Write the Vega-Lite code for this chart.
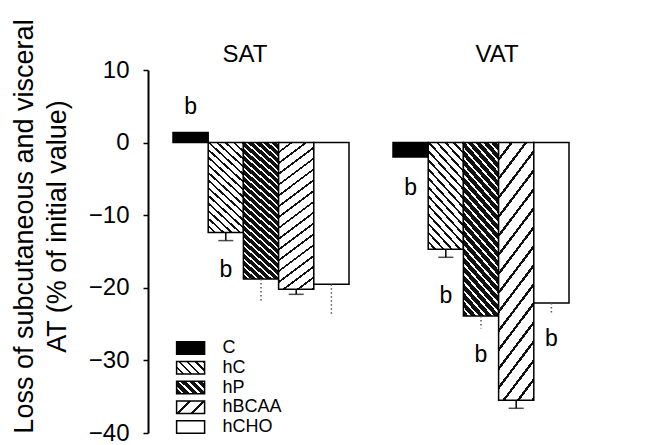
{
  "$schema": "https://vega.github.io/schema/vega-lite/v6.json",
  "width": 513,
  "height": 363,
  "autosize": {"type": "none"},
  "padding": {"left": 148, "top": 70, "right": 0, "bottom": 12},
  "background": "white",
  "config": {"view": {"stroke": null}, "font": "Liberation Sans"},
  "datasets": {
    "bars": [
      {"group": "SAT", "diet": "C", "value": 1.4, "err": null},
      {"group": "SAT", "diet": "hC", "value": -12.4, "err": -13.5},
      {"group": "SAT", "diet": "hP", "value": -18.8, "err": -22.1},
      {"group": "SAT", "diet": "hBCAA", "value": -20.2, "err": -20.9},
      {"group": "SAT", "diet": "hCHO", "value": -19.5, "err": -23.9},
      {"group": "VAT", "diet": "C", "value": -2.0, "err": null},
      {"group": "VAT", "diet": "hC", "value": -14.7, "err": -15.8},
      {"group": "VAT", "diet": "hP", "value": -23.9, "err": -25.6},
      {"group": "VAT", "diet": "hBCAA", "value": -35.5, "err": -36.6},
      {"group": "VAT", "diet": "hCHO", "value": -22.1, "err": -23.6}
    ],
    "notes": [
      {"group": "SAT", "diet": "C", "y": 4.9, "text": "b"},
      {"group": "SAT", "diet": "hC", "y": -17.5, "text": "b"},
      {"group": "VAT", "diet": "C", "y": -6.3, "text": "b"},
      {"group": "VAT", "diet": "hC", "y": -21.1, "text": "b"},
      {"group": "VAT", "diet": "hP", "y": -29.3, "text": "b"},
      {"group": "VAT", "diet": "hCHO", "y": -27.1, "text": "b"}
    ],
    "legend": [
      {"diet": "C"}, {"diet": "hC"}, {"diet": "hP"}, {"diet": "hBCAA"}, {"diet": "hCHO"}
    ]
  },
  "resolve": {"scale": {"y": "independent"}},
  "layer": [
    {
      "layer": [
        {
          "data": {"name": "bars"},
          "mark": {"type": "bar", "stroke": "black", "strokeWidth": 1.5},
          "encoding": {
            "x": {
              "field": "group", "type": "nominal", "sort": ["SAT", "VAT"],
              "scale": {"domain": ["SAT", "VAT"], "paddingInner": 0.2, "paddingOuter": 0.2659, "align": 0.2137},
              "axis": {
                "orient": "top", "title": null, "domain": false, "ticks": false, "tickSize": 0,
                "labelAngle": 0, "labelFontSize": 24, "labelPadding": 4, "labelColor": "black",
                "labelOffset": {"condition": {"test": "datum.value === 'SAT'", "value": -16}, "value": 16}
              }
            },
            "xOffset": {
              "field": "diet", "type": "nominal",
              "scale": {"domain": ["C", "hC", "hP", "hBCAA", "hCHO"], "paddingInner": 0, "paddingOuter": 0}
            },
            "y": {
              "field": "value", "type": "quantitative",
              "scale": {"domain": [-40, 10], "nice": false, "zero": false},
              "axis": {
                "values": [-40, -35, -30, -25, -20, -15, -10, -5, 0, 5, 10],
                "labelExpr": "datum.value % 10 === 0 ? datum.label : ''",
                "grid": false, "labelFontSize": 24, "labelColor": "black", "labelPadding": 14,
                "tickSize": 5, "tickColor": "black", "tickWidth": 1.5,
                "domainColor": "black", "domainWidth": 2,
                "title": ["Loss of subcutaneous and visceral", "AT (% of initial value)"],
                "titleFontSize": 27, "titleFontWeight": "normal", "titleColor": "black",
                "titleLineHeight": 33, "titleX": -110, "titleY": 156
              }
            },
            "fill": {
              "condition": [
                {"test": "datum.diet === 'C'", "value": "black"},
                {"test": "datum.diet === 'hC'", "value": {"gradient": "linear", "x1": 0, "y1": 1, "x2": 0.433, "y2": -0.204, "stops": [
                    {"offset": 0, "color": "#fff"}, {"offset": 0.04375, "color": "#fff"}, {"offset": 0.04375, "color": "#111"}, {"offset": 0.0625, "color": "#111"},
                    {"offset": 0.0625, "color": "#fff"}, {"offset": 0.10625, "color": "#fff"}, {"offset": 0.10625, "color": "#111"}, {"offset": 0.125, "color": "#111"},
                    {"offset": 0.125, "color": "#fff"}, {"offset": 0.16875, "color": "#fff"}, {"offset": 0.16875, "color": "#111"}, {"offset": 0.1875, "color": "#111"},
                    {"offset": 0.1875, "color": "#fff"}, {"offset": 0.23125, "color": "#fff"}, {"offset": 0.23125, "color": "#111"}, {"offset": 0.25, "color": "#111"},
                    {"offset": 0.25, "color": "#fff"}, {"offset": 0.29375, "color": "#fff"}, {"offset": 0.29375, "color": "#111"}, {"offset": 0.3125, "color": "#111"},
                    {"offset": 0.3125, "color": "#fff"}, {"offset": 0.35625, "color": "#fff"}, {"offset": 0.35625, "color": "#111"}, {"offset": 0.375, "color": "#111"},
                    {"offset": 0.375, "color": "#fff"}, {"offset": 0.41875, "color": "#fff"}, {"offset": 0.41875, "color": "#111"}, {"offset": 0.4375, "color": "#111"},
                    {"offset": 0.4375, "color": "#fff"}, {"offset": 0.48125, "color": "#fff"}, {"offset": 0.48125, "color": "#111"}, {"offset": 0.5, "color": "#111"},
                    {"offset": 0.5, "color": "#fff"}, {"offset": 0.54375, "color": "#fff"}, {"offset": 0.54375, "color": "#111"}, {"offset": 0.5625, "color": "#111"},
                    {"offset": 0.5625, "color": "#fff"}, {"offset": 0.60625, "color": "#fff"}, {"offset": 0.60625, "color": "#111"}, {"offset": 0.625, "color": "#111"},
                    {"offset": 0.625, "color": "#fff"}, {"offset": 0.66875, "color": "#fff"}, {"offset": 0.66875, "color": "#111"}, {"offset": 0.6875, "color": "#111"},
                    {"offset": 0.6875, "color": "#fff"}, {"offset": 0.73125, "color": "#fff"}, {"offset": 0.73125, "color": "#111"}, {"offset": 0.75, "color": "#111"},
                    {"offset": 0.75, "color": "#fff"}, {"offset": 0.79375, "color": "#fff"}, {"offset": 0.79375, "color": "#111"}, {"offset": 0.8125, "color": "#111"},
                    {"offset": 0.8125, "color": "#fff"}, {"offset": 0.85625, "color": "#fff"}, {"offset": 0.85625, "color": "#111"}, {"offset": 0.875, "color": "#111"},
                    {"offset": 0.875, "color": "#fff"}, {"offset": 0.91875, "color": "#fff"}, {"offset": 0.91875, "color": "#111"}, {"offset": 0.9375, "color": "#111"},
                    {"offset": 0.9375, "color": "#fff"}, {"offset": 0.98125, "color": "#fff"}, {"offset": 0.98125, "color": "#111"}, {"offset": 1, "color": "#111"}
                  ]}},
                {"test": "datum.diet === 'hP'", "value": {"gradient": "linear", "x1": 0, "y1": 1, "x2": 0.269, "y2": -0.168, "stops": [
                    {"offset": 0, "color": "#111"}, {"offset": 0.02917, "color": "#111"}, {"offset": 0.02917, "color": "#fff"}, {"offset": 0.04167, "color": "#fff"},
                    {"offset": 0.04167, "color": "#111"}, {"offset": 0.07083, "color": "#111"}, {"offset": 0.07083, "color": "#fff"}, {"offset": 0.08333, "color": "#fff"},
                    {"offset": 0.08333, "color": "#111"}, {"offset": 0.1125, "color": "#111"}, {"offset": 0.1125, "color": "#fff"}, {"offset": 0.125, "color": "#fff"},
                    {"offset": 0.125, "color": "#111"}, {"offset": 0.15417, "color": "#111"}, {"offset": 0.15417, "color": "#fff"}, {"offset": 0.16667, "color": "#fff"},
                    {"offset": 0.16667, "color": "#111"}, {"offset": 0.19583, "color": "#111"}, {"offset": 0.19583, "color": "#fff"}, {"offset": 0.20833, "color": "#fff"},
                    {"offset": 0.20833, "color": "#111"}, {"offset": 0.2375, "color": "#111"}, {"offset": 0.2375, "color": "#fff"}, {"offset": 0.25, "color": "#fff"},
                    {"offset": 0.25, "color": "#111"}, {"offset": 0.27917, "color": "#111"}, {"offset": 0.27917, "color": "#fff"}, {"offset": 0.29167, "color": "#fff"},
                    {"offset": 0.29167, "color": "#111"}, {"offset": 0.32083, "color": "#111"}, {"offset": 0.32083, "color": "#fff"}, {"offset": 0.33333, "color": "#fff"},
                    {"offset": 0.33333, "color": "#111"}, {"offset": 0.3625, "color": "#111"}, {"offset": 0.3625, "color": "#fff"}, {"offset": 0.375, "color": "#fff"},
                    {"offset": 0.375, "color": "#111"}, {"offset": 0.40417, "color": "#111"}, {"offset": 0.40417, "color": "#fff"}, {"offset": 0.41667, "color": "#fff"},
                    {"offset": 0.41667, "color": "#111"}, {"offset": 0.44583, "color": "#111"}, {"offset": 0.44583, "color": "#fff"}, {"offset": 0.45833, "color": "#fff"},
                    {"offset": 0.45833, "color": "#111"}, {"offset": 0.4875, "color": "#111"}, {"offset": 0.4875, "color": "#fff"}, {"offset": 0.5, "color": "#fff"},
                    {"offset": 0.5, "color": "#111"}, {"offset": 0.52917, "color": "#111"}, {"offset": 0.52917, "color": "#fff"}, {"offset": 0.54167, "color": "#fff"},
                    {"offset": 0.54167, "color": "#111"}, {"offset": 0.57083, "color": "#111"}, {"offset": 0.57083, "color": "#fff"}, {"offset": 0.58333, "color": "#fff"},
                    {"offset": 0.58333, "color": "#111"}, {"offset": 0.6125, "color": "#111"}, {"offset": 0.6125, "color": "#fff"}, {"offset": 0.625, "color": "#fff"},
                    {"offset": 0.625, "color": "#111"}, {"offset": 0.65417, "color": "#111"}, {"offset": 0.65417, "color": "#fff"}, {"offset": 0.66667, "color": "#fff"},
                    {"offset": 0.66667, "color": "#111"}, {"offset": 0.69583, "color": "#111"}, {"offset": 0.69583, "color": "#fff"}, {"offset": 0.70833, "color": "#fff"},
                    {"offset": 0.70833, "color": "#111"}, {"offset": 0.7375, "color": "#111"}, {"offset": 0.7375, "color": "#fff"}, {"offset": 0.75, "color": "#fff"},
                    {"offset": 0.75, "color": "#111"}, {"offset": 0.77917, "color": "#111"}, {"offset": 0.77917, "color": "#fff"}, {"offset": 0.79167, "color": "#fff"},
                    {"offset": 0.79167, "color": "#111"}, {"offset": 0.82083, "color": "#111"}, {"offset": 0.82083, "color": "#fff"}, {"offset": 0.83333, "color": "#fff"},
                    {"offset": 0.83333, "color": "#111"}, {"offset": 0.8625, "color": "#111"}, {"offset": 0.8625, "color": "#fff"}, {"offset": 0.875, "color": "#fff"},
                    {"offset": 0.875, "color": "#111"}, {"offset": 0.90417, "color": "#111"}, {"offset": 0.90417, "color": "#fff"}, {"offset": 0.91667, "color": "#fff"},
                    {"offset": 0.91667, "color": "#111"}, {"offset": 0.94583, "color": "#111"}, {"offset": 0.94583, "color": "#fff"}, {"offset": 0.95833, "color": "#fff"},
                    {"offset": 0.95833, "color": "#111"}, {"offset": 0.9875, "color": "#111"}, {"offset": 0.9875, "color": "#fff"}, {"offset": 1, "color": "#fff"}
                  ]}},
                {"test": "datum.diet === 'hBCAA'", "value": {"gradient": "linear", "x1": 0, "y1": 0, "x2": 0.206, "y2": 1.143, "stops": [
                    {"offset": 0, "color": "#fff"}, {"offset": 0.05, "color": "#fff"}, {"offset": 0.05, "color": "#111"}, {"offset": 0.0625, "color": "#111"},
                    {"offset": 0.0625, "color": "#fff"}, {"offset": 0.1125, "color": "#fff"}, {"offset": 0.1125, "color": "#111"}, {"offset": 0.125, "color": "#111"},
                    {"offset": 0.125, "color": "#fff"}, {"offset": 0.175, "color": "#fff"}, {"offset": 0.175, "color": "#111"}, {"offset": 0.1875, "color": "#111"},
                    {"offset": 0.1875, "color": "#fff"}, {"offset": 0.2375, "color": "#fff"}, {"offset": 0.2375, "color": "#111"}, {"offset": 0.25, "color": "#111"},
                    {"offset": 0.25, "color": "#fff"}, {"offset": 0.3, "color": "#fff"}, {"offset": 0.3, "color": "#111"}, {"offset": 0.3125, "color": "#111"},
                    {"offset": 0.3125, "color": "#fff"}, {"offset": 0.3625, "color": "#fff"}, {"offset": 0.3625, "color": "#111"}, {"offset": 0.375, "color": "#111"},
                    {"offset": 0.375, "color": "#fff"}, {"offset": 0.425, "color": "#fff"}, {"offset": 0.425, "color": "#111"}, {"offset": 0.4375, "color": "#111"},
                    {"offset": 0.4375, "color": "#fff"}, {"offset": 0.4875, "color": "#fff"}, {"offset": 0.4875, "color": "#111"}, {"offset": 0.5, "color": "#111"},
                    {"offset": 0.5, "color": "#fff"}, {"offset": 0.55, "color": "#fff"}, {"offset": 0.55, "color": "#111"}, {"offset": 0.5625, "color": "#111"},
                    {"offset": 0.5625, "color": "#fff"}, {"offset": 0.6125, "color": "#fff"}, {"offset": 0.6125, "color": "#111"}, {"offset": 0.625, "color": "#111"},
                    {"offset": 0.625, "color": "#fff"}, {"offset": 0.675, "color": "#fff"}, {"offset": 0.675, "color": "#111"}, {"offset": 0.6875, "color": "#111"},
                    {"offset": 0.6875, "color": "#fff"}, {"offset": 0.7375, "color": "#fff"}, {"offset": 0.7375, "color": "#111"}, {"offset": 0.75, "color": "#111"},
                    {"offset": 0.75, "color": "#fff"}, {"offset": 0.8, "color": "#fff"}, {"offset": 0.8, "color": "#111"}, {"offset": 0.8125, "color": "#111"},
                    {"offset": 0.8125, "color": "#fff"}, {"offset": 0.8625, "color": "#fff"}, {"offset": 0.8625, "color": "#111"}, {"offset": 0.875, "color": "#111"},
                    {"offset": 0.875, "color": "#fff"}, {"offset": 0.925, "color": "#fff"}, {"offset": 0.925, "color": "#111"}, {"offset": 0.9375, "color": "#111"},
                    {"offset": 0.9375, "color": "#fff"}, {"offset": 0.9875, "color": "#fff"}, {"offset": 0.9875, "color": "#111"}, {"offset": 1, "color": "#111"}
                  ]}}
              ],
              "value": "white"
            }
          }
        },
        {
          "data": {"name": "bars"},
          "transform": [{"filter": "datum.diet === 'hC' || datum.diet === 'hBCAA'"}],
          "mark": {"type": "rule", "stroke": "black", "strokeWidth": 1.5},
          "encoding": {
            "x": {"field": "group", "type": "nominal"},
            "xOffset": {"field": "diet", "type": "nominal"},
            "y": {"field": "value", "type": "quantitative"},
            "y2": {"field": "err"}
          }
        },
        {
          "data": {"name": "bars"},
          "transform": [{"filter": "datum.diet === 'hC' || datum.diet === 'hBCAA'"}],
          "mark": {"type": "tick", "color": "black", "size": 15, "thickness": 1.5, "orient": "horizontal"},
          "encoding": {
            "x": {"field": "group", "type": "nominal"},
            "xOffset": {"field": "diet", "type": "nominal"},
            "y": {"field": "err", "type": "quantitative"}
          }
        },
        {
          "data": {"name": "bars"},
          "transform": [{"filter": "datum.diet === 'hP' || datum.diet === 'hCHO'"}],
          "mark": {"type": "rule", "stroke": "#555", "strokeWidth": 1.5, "strokeDash": [1.5, 2.5]},
          "encoding": {
            "x": {"field": "group", "type": "nominal"},
            "xOffset": {"field": "diet", "type": "nominal"},
            "y": {"field": "value", "type": "quantitative"},
            "y2": {"field": "err"}
          }
        },
        {
          "mark": {"type": "rule", "stroke": "black", "strokeWidth": 2},
          "encoding": {"y": {"datum": 0}}
        },
        {
          "data": {"name": "notes"},
          "mark": {"type": "text", "fontSize": 23, "color": "black", "baseline": "middle", "align": "center"},
          "encoding": {
            "x": {"field": "group", "type": "nominal"},
            "xOffset": {"field": "diet", "type": "nominal"},
            "y": {"field": "y", "type": "quantitative"},
            "text": {"field": "text"}
          }
        }
      ]
    },
    {
      "data": {"name": "legend"},
      "layer": [
        {
          "mark": {"type": "point", "shape": "M-1,-0.45H1V0.45H-1Z", "size": 784, "filled": true, "opacity": 1, "stroke": "black", "strokeWidth": 1.5, "xOffset": 5},
          "encoding": {
            "x": {"datum": "SAT", "type": "nominal"},
            "xOffset": {"datum": "C", "type": "nominal"},
            "y": {
              "field": "diet", "type": "nominal",
              "scale": {"type": "point", "domain": ["C", "hC", "hP", "hBCAA", "hCHO"], "range": [278, 357], "padding": 0},
              "axis": null
            },
            "fill": {
              "condition": [
                {"test": "datum.diet === 'C'", "value": "black"},
                {"test": "datum.diet === 'hC'", "value": {"gradient": "linear", "x1": 0, "y1": 1, "x2": 1.205, "y2": 0.452, "stops": [
                  {"offset": 0, "color": "#fff"}, {"offset": 0.14, "color": "#fff"}, {"offset": 0.14, "color": "#111"}, {"offset": 0.2, "color": "#111"},
                  {"offset": 0.2, "color": "#fff"}, {"offset": 0.34, "color": "#fff"}, {"offset": 0.34, "color": "#111"}, {"offset": 0.4, "color": "#111"},
                  {"offset": 0.4, "color": "#fff"}, {"offset": 0.54, "color": "#fff"}, {"offset": 0.54, "color": "#111"}, {"offset": 0.6, "color": "#111"},
                  {"offset": 0.6, "color": "#fff"}, {"offset": 0.74, "color": "#fff"}, {"offset": 0.74, "color": "#111"}, {"offset": 0.8, "color": "#111"},
                  {"offset": 0.8, "color": "#fff"}, {"offset": 0.94, "color": "#fff"}, {"offset": 0.94, "color": "#111"}, {"offset": 1, "color": "#111"}
                ]}},
                {"test": "datum.diet === 'hP'", "value": {"gradient": "linear", "x1": 0, "y1": 1, "x2": 1.205, "y2": 0.452, "stops": [
                  {"offset": 0, "color": "#111"}, {"offset": 0.13, "color": "#111"}, {"offset": 0.13, "color": "#fff"}, {"offset": 0.2, "color": "#fff"},
                  {"offset": 0.2, "color": "#111"}, {"offset": 0.33, "color": "#111"}, {"offset": 0.33, "color": "#fff"}, {"offset": 0.4, "color": "#fff"},
                  {"offset": 0.4, "color": "#111"}, {"offset": 0.53, "color": "#111"}, {"offset": 0.53, "color": "#fff"}, {"offset": 0.6, "color": "#fff"},
                  {"offset": 0.6, "color": "#111"}, {"offset": 0.73, "color": "#111"}, {"offset": 0.73, "color": "#fff"}, {"offset": 0.8, "color": "#fff"},
                  {"offset": 0.8, "color": "#111"}, {"offset": 0.93, "color": "#111"}, {"offset": 0.93, "color": "#fff"}, {"offset": 1, "color": "#fff"}
                ]}},
                {"test": "datum.diet === 'hBCAA'", "value": {"gradient": "linear", "x1": 0, "y1": 0, "x2": 1.205, "y2": 0.548, "stops": [
                  {"offset": 0, "color": "#fff"}, {"offset": 0.3, "color": "#fff"}, {"offset": 0.3, "color": "#111"}, {"offset": 0.37, "color": "#111"},
                  {"offset": 0.37, "color": "#fff"}, {"offset": 0.64, "color": "#fff"}, {"offset": 0.64, "color": "#111"}, {"offset": 0.71, "color": "#111"},
                  {"offset": 0.71, "color": "#fff"}, {"offset": 1, "color": "#fff"}
                ]}}
              ],
              "value": "white"
            }
          }
        },
        {
          "mark": {"type": "text", "fontSize": 18, "color": "black", "align": "left", "baseline": "middle", "dx": 32},
          "encoding": {
            "x": {"datum": "SAT", "type": "nominal"},
            "xOffset": {"datum": "C", "type": "nominal"},
            "y": {"field": "diet", "type": "nominal"},
            "text": {"field": "diet"}
          }
        }
      ]
    }
  ]
}
